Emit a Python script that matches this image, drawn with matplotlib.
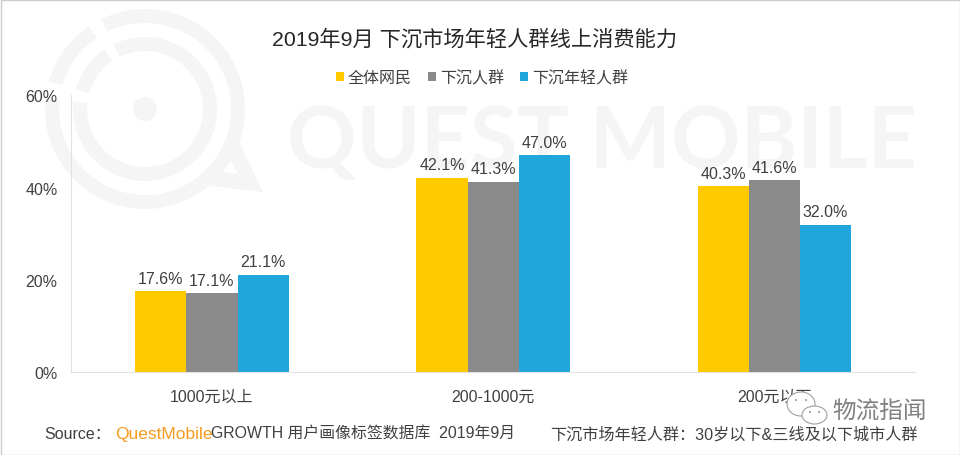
import numpy as np
import matplotlib
matplotlib.use('Agg')
import matplotlib.pyplot as plt
from matplotlib.patches import Wedge, Circle, Polygon, Ellipse, Rectangle

plt.rcParams['font.family'] = ['Liberation Sans', 'Noto Sans CJK SC', 'DejaVu Sans']

categories = ['1000元以上', '200-1000元', '200元以下']
series_names = ['全体网民', '下沉人群', '下沉年轻人群']
all_users = [17.6, 42.1, 40.3]
lower_users = [17.1, 41.3, 41.6]
young_users = [21.1, 47.0, 32.0]
colors = ['#FFCA00', '#8A8A8A', '#21A6DB']
text_color = '#404040'

W, H = 960, 456
fig = plt.figure(figsize=(W / 100, H / 100), dpi=100)

# fond en pixels: filigrane et cadre
bg = fig.add_axes([0, 0, 1, 1], zorder=0)
bg.set_xlim(0, W)
bg.set_ylim(0, H)
bg.axis('off')
wm = '#F5F5F5'
cx, cy = 145, H - 110
for r, w in [(100, 14), (72, 14)]:
    bg.add_patch(Wedge((cx, cy), r, -186, 116, width=w, color=wm, lw=0))
    bg.add_patch(Wedge((cx, cy), r, 124, 164, width=w, color=wm, lw=0))
bg.add_patch(Circle((cx, cy), 12, color=wm, lw=0))
bg.add_patch(Polygon([(240, H - 145), (263, H - 193), (211, H - 187), (208, H - 171),
                      (238, H - 175), (224, H - 149)], closed=True, color=wm, lw=0))
bg.text(602, H - 144, 'QUEST MOBILE', fontsize=62, family='Lato', weight='bold', color=wm,
        ha='center', va='center')
bg.add_patch(Rectangle((0.5, 0.5), W - 1, H - 1, fill=False, ec='#CCCCCC', lw=1))

# graphique
ax = fig.add_axes([71.3 / W, (H - 373.4) / H, (915 - 71.3) / W, (373.4 - 96.4) / H], zorder=1)
ax.patch.set_alpha(0)
x = np.arange(len(categories))
bw = 0.182
for i, (vals, name, c) in enumerate(zip([all_users, lower_users, young_users], series_names, colors)):
    bars = ax.bar(x + (i - 1) * bw, vals, bw, color=c, label=name)
    ax.bar_label(bars, labels=[f'{v:.1f}%' for v in vals], padding=4, fontsize=11.5, color=text_color)

ax.set_xlim(-0.5, 2.5)
ax.set_ylim(0, 60)
ax.set_yticks([0, 20, 40, 60])
ax.set_yticklabels(['0%', '20%', '40%', '60%'])
ax.set_xticks(x)
ax.set_xticklabels(categories)
ax.tick_params(axis='both', length=0, labelsize=11.5, labelcolor=text_color)
ax.tick_params(axis='y', pad=10)
ax.tick_params(axis='x', pad=12)
for s in ['top', 'right']:
    ax.spines[s].set_visible(False)
for s in ['left', 'bottom']:
    ax.spines[s].set_color('#E2E2E2')

fig.text(475 / W, 1 - 39 / H, '2019年9月 下沉市场年轻人群线上消费能力', fontsize=15.3, color='#262626',
         ha='center', va='center')
ax.legend(loc='center', bbox_to_anchor=(482 / W, 1 - 78.5 / H), bbox_transform=fig.transFigure,
          ncol=3, frameon=False, fontsize=11.5, labelcolor=text_color, handlelength=0.5,
          handleheight=0.5, handletextpad=0.25, columnspacing=1.0)

# pied de page
fy = 1 - 434.5 / H
fig.text(44 / W, fy, 'Source：', fontsize=11.5, color=text_color, va='center')
fig.text(115 / W, fy, 'QuestMobile', fontsize=12.5, color='#F79A1E', va='center')
fig.text(211 / W, fy, 'GROWTH 用户画像标签数据库  2019年9月', fontsize=11.4, color=text_color, va='center')
fig.text(550 / W, fy, '下沉市场年轻人群：30岁以下&三线及以下城市人群', fontsize=11.6, color=text_color, va='center')

# logo en bas a droite
top = fig.add_axes([0, 0, 1, 1], zorder=2)
top.set_xlim(0, W)
top.set_ylim(0, H)
top.axis('off')
top.add_patch(Ellipse((801, H - 405), 28, 24, fc='white', ec='#A0A0A0', lw=0.8))
top.add_patch(Ellipse((814.5, H - 416), 25, 18, fc='white', ec='#A0A0A0', lw=0.8))
for ex, ey in [(796, 401), (806, 401), (810, 413), (819, 413)]:
    top.add_patch(Circle((ex, H - ey), 1, color='#909090', lw=0))
top.text(880, H - 413, '物流指闻', fontsize=17, color='#808080', ha='center', va='center')

fig.savefig('out.png', dpi=100)
